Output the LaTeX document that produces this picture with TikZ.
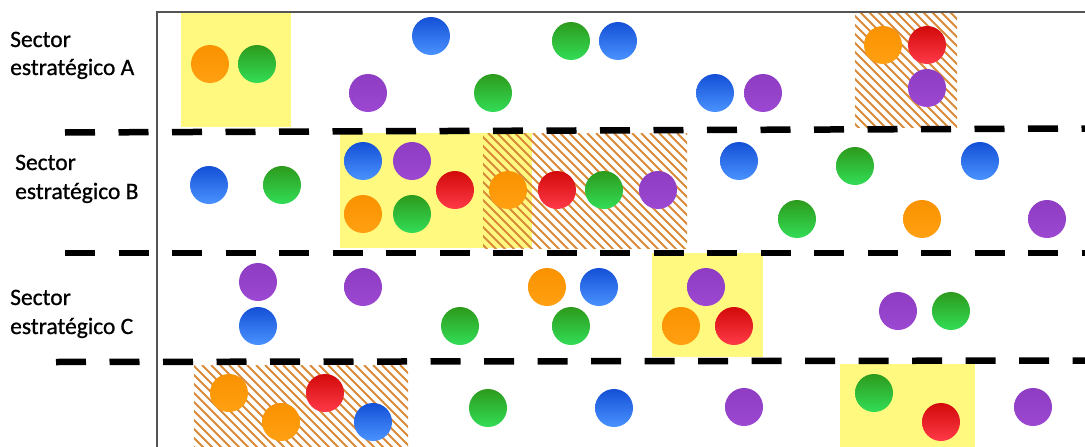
\documentclass[tikz,border=0pt]{standalone}
\usepackage{fontspec}
\setmainfont{Carlito}
\newfontfamily\lblfont{Carlito}[FakeBold=0.8]
\begin{document}
\begin{tikzpicture}[x=1pt,y=-1pt,
  ball/.style={circle,inner sep=0pt,minimum size=38pt,draw=none},
  ballB/.style={ball,top color=blueT,bottom color=blueB},
  ballG/.style={ball,top color=greenT,bottom color=greenB},
  ballR/.style={ball,top color=redT,bottom color=redB},
  ballO/.style={ball,top color=orangeT,bottom color=orangeB},
  ballP/.style={ball,top color=purpleT,bottom color=purpleB},
  yel/.style={fill=yelC,draw=none},
  hatchline/.style={draw=hatchC,line width=2pt},
  sep/.style={draw=black,line width=6.5pt,dash pattern=on 30pt off 23.5pt},
  frame/.style={draw=frameC,line width=2pt},
  lbl/.style={anchor=base west,inner sep=0pt,font=\lblfont\fontsize{23.5}{28}\selectfont}
]
\definecolor{blueT}{HTML}{1450D6}
\definecolor{blueB}{HTML}{4A92FF}
\definecolor{greenT}{HTML}{2D9A1C}
\definecolor{greenB}{HTML}{33DD57}
\definecolor{redT}{HTML}{D20A0A}
\definecolor{redB}{HTML}{FF3A48}
\definecolor{orangeT}{HTML}{FA9200}
\definecolor{orangeB}{HTML}{FFA012}
\definecolor{purpleT}{HTML}{8E3CC2}
\definecolor{purpleB}{HTML}{9C48D2}
\definecolor{yelC}{HTML}{FFF97F}
\definecolor{hatchC}{HTML}{D98A38}
\definecolor{frameC}{HTML}{555555}

\useasboundingbox[fill=white] (0,0) rectangle (1085,447);

% yellow areas
\path[yel] (181,12) rectangle (291,127);
\path[yel] (340,133) rectangle (532,248);
\path[yel] (652,253) rectangle (763,357);
\path[yel] (840,364) rectangle (975,447);

% hatched areas
\begin{scope}
  \clip (855,12) rectangle (957,127);
  \foreach \a in {-130,-121,...,110} \draw[hatchline] (855+\a,12) -- ++(130,130);
\end{scope}
\begin{scope}
  \clip (483,133) rectangle (687,248);
  \foreach \a in {-130,-121,...,210} \draw[hatchline] (483+\a,133) -- ++(130,130);
\end{scope}
\begin{scope}
  \clip (194,365) rectangle (408,447);
  \foreach \a in {-100,-91,...,220} \draw[hatchline] (194+\a,365) -- ++(100,100);
\end{scope}

% frame
\coordinate (fTL) at (157,12);
\coordinate (fTR) at (1085,12);
\coordinate (fBL) at (157,447);
\draw[frame] (fTR) -- (fTL) -- (fBL);

% separators
\coordinate (s1a) at (65,132.5);  \coordinate (s1b) at (1085,128.5);
\coordinate (s2a) at (65,253);    \coordinate (s2b) at (1085,253);
\coordinate (s3a) at (56,362);    \coordinate (s3b) at (1085,360.5);
\draw[sep] (s1a) -- (s1b);
\draw[sep] (s2a) -- (s2b);
\draw[sep] (s3a) -- (s3b);

% labels
\node[lbl] (lA1) at (10,47) {Sector};
\node[lbl] (lA2) at (10,75) {estratégico A};
\node[lbl] (lB1) at (15,170) {Sector};
\node[lbl] (lB2) at (15,199) {estratégico B};
\node[lbl] (lC1) at (10,305) {Sector};
\node[lbl] (lC2) at (10,334) {estratégico C};

% sector A balls
\node[ballO] (a1) at (210,64) {};
\node[ballG] (a2) at (257,64) {};
\node[ballB] (a3) at (431,36) {};
\node[ballP] (a4) at (368,93) {};
\node[ballG] (a5) at (571,41) {};
\node[ballB] (a6) at (618,41) {};
\node[ballG] (a7) at (493,93) {};
\node[ballB] (a8) at (715,93) {};
\node[ballP] (a9) at (763,93) {};
\node[ballO] (a10) at (883,45) {};
\node[ballR] (a11) at (927,45) {};
\node[ballP] (a12) at (927,88) {};

% sector B balls
\node[ballB] (b1) at (209,185) {};
\node[ballG] (b2) at (282,185) {};
\node[ballB] (b3) at (363,161) {};
\node[ballP] (b4) at (412,161) {};
\node[ballO] (b5) at (363,214) {};
\node[ballG] (b6) at (412,214) {};
\node[ballR] (b7) at (455,190) {};
\node[ballO] (b8) at (508,190) {};
\node[ballR] (b9) at (557,190) {};
\node[ballG] (b10) at (604,190) {};
\node[ballP] (b11) at (658,190) {};
\node[ballB] (b12) at (739,161) {};
\node[ballG] (b13) at (855,166) {};
\node[ballB] (b14) at (980,161) {};
\node[ballG] (b15) at (797,219) {};
\node[ballO] (b16) at (922,219) {};
\node[ballP] (b17) at (1047,219) {};

% sector C balls
\node[ballP] (c1) at (258,282) {};
\node[ballB] (c2) at (258,326) {};
\node[ballP] (c3) at (363,287) {};
\node[ballG] (c4) at (460,326) {};
\node[ballO] (c5) at (547,287) {};
\node[ballB] (c6) at (599,287) {};
\node[ballG] (c7) at (571,326) {};
\node[ballP] (c8) at (706,287) {};
\node[ballO] (c9) at (681,326) {};
\node[ballR] (c10) at (734,326) {};
\node[ballP] (c11) at (898,311) {};
\node[ballG] (c12) at (951,311) {};

% sector D balls
\node[ballO] (d1) at (229,393) {};
\node[ballO] (d2) at (281,422) {};
\node[ballR] (d3) at (325,393) {};
\node[ballB] (d4) at (373,422) {};
\node[ballG] (d5) at (488,408) {};
\node[ballB] (d6) at (614,408) {};
\node[ballP] (d7) at (744,407) {};
\node[ballG] (d8) at (874,393) {};
\node[ballR] (d9) at (941,422) {};
\node[ballP] (d10) at (1033,407) {};
\end{tikzpicture}
\end{document}
